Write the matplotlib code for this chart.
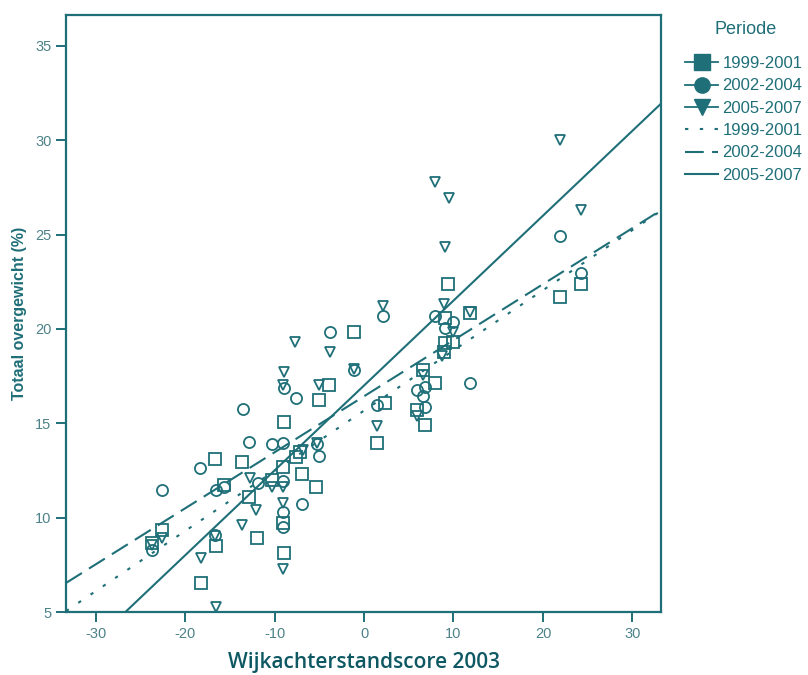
import numpy as np
import matplotlib
matplotlib.use("Agg")
import matplotlib.pyplot as plt
from matplotlib.lines import Line2D

plt.rcParams["axes.unicode_minus"] = False

TEAL = "#1f6f78"
TICK_TXT = "#4d8288"

# 1999-2001 (squares)
sq_x = [-23.7, -22.6, -18.2, -16.5, -16.6, -15.6, -13.6, -12.8, -12.0, -10.3, -9.1, -8.9, -9.0, -8.9,
        -7.6, -6.9, -5.4, -5.0, -3.9, -1.1, 1.4, 2.3, 6.6, 7.9, 5.9, 6.8, 9.0, 9.4, 9.0, 10.0, 8.9,
        11.9, 21.9, 24.3, -7.2]
sq_y = [8.64, 9.35, 6.52, 8.5, 13.1, 11.73, 12.97, 11.11, 8.91, 12.0, 12.7, 15.09, 9.73, 8.11,
        13.2, 12.3, 11.61, 16.24, 17.04, 19.81, 13.94, 16.1, 17.8, 17.16, 15.68, 14.92, 20.6, 22.39,
        19.25, 19.28, 18.8, 20.84, 21.67, 22.39, 13.5]

# 2002-2004 (circles)
ci_x = [-23.7, -22.6, -18.3, -16.5, -16.6, -13.5, -12.8, -11.9, -10.3, -9.1, -9.0, -9.0, -9.1, -8.9,
        -7.6, -6.9, -5.3, -5.0, -3.8, -1.1, 1.5, 2.1, 5.9, 6.8, 6.6, 6.8, 7.9, 9.9, 9.05, 11.9,
        21.9, 24.3, -15.6]
ci_y = [8.29, 11.47, 12.65, 11.47, 9.08, 15.75, 14.03, 11.82, 13.9, 13.98, 11.95, 10.32, 9.52, 16.86,
        16.36, 10.71, 13.9, 13.29, 19.81, 17.83, 15.98, 20.66, 16.77, 16.9, 16.42, 15.85, 20.69, 20.34,
        20.04, 17.16, 24.94, 22.96, 11.6]

# 2005-2007 (triangles)
tr_x = [-22.6, -23.7, -18.2, -16.5, -16.6, -13.6, -12.7, -12.1, -10.3, -9.0, -9.0, -9.1, -8.9, -9.1,
        -7.7, -6.8, -5.0, -3.8, -1.1, -5.3, 1.4, 2.1, 6.6, 5.9, 7.9, 9.5, 9.0, 8.9, 10.0, 8.7, 11.9,
        21.9, 24.3]
tr_y = [8.92, 8.55, 7.85, 5.28, 9.03, 9.61, 12.09, 10.41, 11.64, 11.64, 10.76, 7.28, 17.74, 17.04,
        19.33, 13.6, 17.04, 18.75, 17.9, 13.95, 14.83, 21.22, 17.57, 15.36, 27.76, 26.93, 24.34, 21.33,
        19.86, 18.54, 20.9, 30.03, 26.3]

# fitted lines: intercept, slope
fit_labels = ["1999-2001", "2002-2004", "2005-2007"]
fit_intercept = [15.67, 16.43, 17.0]
fit_slope = [0.319, 0.297, 0.450]
fit_styles = [(0, (1.6, 5.5)), (0, (9, 4)), "-"]

fig = plt.figure(figsize=(8.08, 6.75), dpi=100)
ax = fig.add_axes([0.0817, 0.0933, 0.7365, 0.885])

mk = dict(linestyle="none", markerfacecolor="none", markeredgecolor=TEAL, markeredgewidth=1.3)
ax.plot(sq_x, sq_y, marker="s", markersize=8, **mk)
ax.plot(ci_x, ci_y, marker="o", markersize=8, **mk)
ax.plot(tr_x, tr_y, marker="v", markersize=6.5, **mk)

xlim = (-33.3, 33.2)
ylim = (5, 36.65)
xs = np.array(xlim)
for b, m, ls in zip(fit_intercept, fit_slope, fit_styles):
    ax.plot(xs, b + m * xs, color=TEAL, lw=1.5, linestyle=ls)

ax.set_xlim(*xlim)
ax.set_ylim(*ylim)
ax.set_xticks([-30, -20, -10, 0, 10, 20, 30])
ax.set_yticks([5, 10, 15, 20, 25, 30, 35])
for s in ax.spines.values():
    s.set_color(TEAL)
    s.set_linewidth(1.6)
ax.tick_params(colors=TEAL, width=1.4, length=7, labelcolor=TICK_TXT, labelsize=10.5, direction="out")
for lab in ax.get_xticklabels() + ax.get_yticklabels():
    lab.set_family("Liberation Sans")

ax.set_ylabel("Totaal overgewicht (%)", color=TEAL, fontsize=11.5, fontweight="bold",
              family="Liberation Sans", labelpad=6)
ax.set_xlabel("Wijkachterstandscore 2003", color="#0d5862", fontsize=15, fontweight="semibold",
              family="Open Sans", labelpad=8)

handles = [
    Line2D([], [], color=TEAL, marker="s", markersize=11, lw=1.3),
    Line2D([], [], color=TEAL, marker="o", markersize=11, lw=1.3),
    Line2D([], [], color=TEAL, marker="v", markersize=11, lw=1.3),
]
for ls in fit_styles:
    handles.append(Line2D([], [], color=TEAL, lw=1.5, linestyle=ls))
labels = fit_labels + fit_labels

fig.text(746 / 808, 1 - 29 / 675, "Periode", color=TEAL, fontsize=13, family="Liberation Sans",
         ha="center", va="center")
leg = fig.legend(handles, labels, loc="upper left", bbox_to_anchor=(685 / 808, 1 - 56 / 675),
                 frameon=False, handlelength=2.0, handletextpad=0.25, labelspacing=0.44,
                 borderpad=0, borderaxespad=0, prop={"family": "Liberation Sans", "size": 12})
for t in leg.get_texts():
    t.set_color(TEAL)

fig.savefig("out.png", dpi=100)
